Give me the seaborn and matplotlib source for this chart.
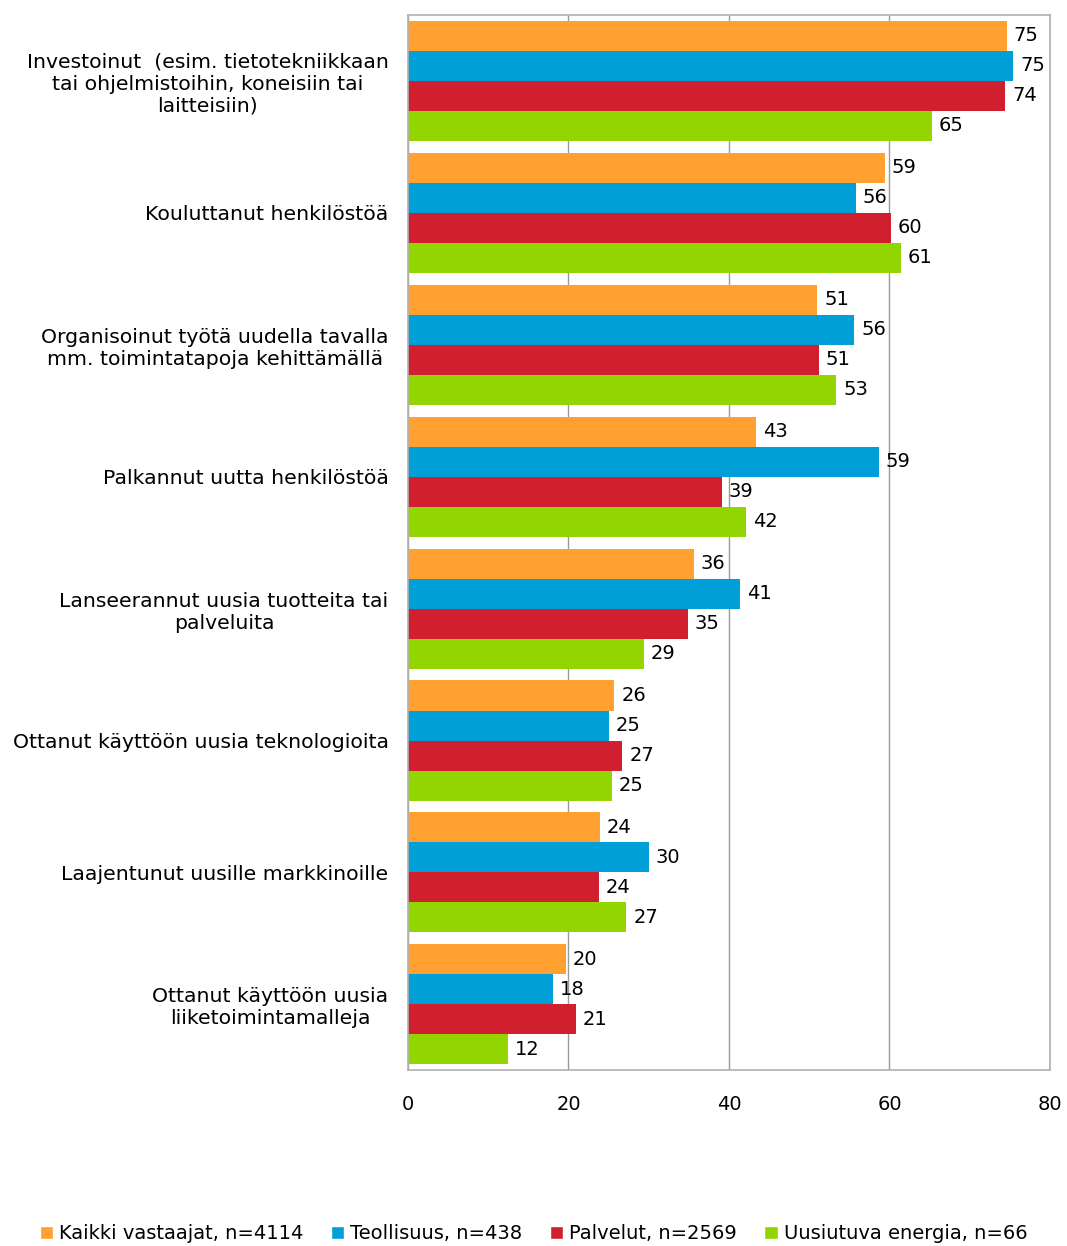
import pandas as pd
import matplotlib
matplotlib.use("Agg")
import matplotlib.pyplot as plt
import seaborn as sns
from matplotlib.patches import Patch

categories = [
    "Investoinut  (esim. tietotekniikkaan\ntai ohjelmistoihin, koneisiin tai\nlaitteisiin)",
    "Kouluttanut henkilöstöä",
    "Organisoinut työtä uudella tavalla\nmm. toimintatapoja kehittämällä",
    "Palkannut uutta henkilöstöä",
    "Lanseerannut uusia tuotteita tai\npalveluita",
    "Ottanut käyttöön uusia teknologioita",
    "Laajentunut uusille markkinoille",
    "Ottanut käyttöön uusia\nliiketoimintamalleja",
]
series = ["Kaikki vastaajat, n=4114", "Teollisuus, n=438", "Palvelut, n=2569", "Uusiutuva energia, n=66"]
kaikki = [74.6, 59.4, 51.0, 43.4, 35.6, 25.7, 23.9, 19.7]
teollisuus = [75.4, 55.8, 55.6, 58.7, 41.4, 25.0, 30.0, 18.1]
palvelut = [74.4, 60.2, 51.2, 39.1, 34.9, 26.7, 23.8, 20.9]
uusiutuva = [65.3, 61.4, 53.4, 42.1, 29.4, 25.4, 27.2, 12.4]
colors = ["#ffa031", "#009fd8", "#d0202f", "#93d500"]

df = pd.DataFrame({
    "kategoria": categories * 4,
    "sarja": [s for s in series for _ in categories],
    "arvo": kaikki + teollisuus + palvelut + uusiutuva,
})

sns.set_style("white")
plt.rcParams["font.family"] = ["DejaVu Sans"]
plt.rcParams["text.color"] = "black"
plt.rcParams["xtick.color"] = "black"
plt.rcParams["ytick.color"] = "black"

fig, ax = plt.subplots(figsize=(10.67, 12.46), dpi=100)
fig.subplots_adjust(left=0.3824, right=0.984, top=0.988, bottom=0.141)

sns.barplot(data=df, y="kategoria", x="arvo", hue="sarja", order=categories,
            hue_order=series, palette=colors, orient="h", width=0.91,
            saturation=1, legend=False, linewidth=0, ax=ax)

for cont in ax.containers:
    ax.bar_label(cont, fmt="%.0f", padding=5, fontsize=14, color="black")

ax.set_xlim(0, 80)
ax.set_xticks([0, 20, 40, 60, 80])
ax.set_ylim(len(categories) - 0.5, -0.5)
ax.xaxis.grid(True, color="#9a9a9a", linewidth=1)
ax.set_axisbelow(True)
for sp in ax.spines.values():
    sp.set_visible(True)
    sp.set_color("#b0b0b0")
    sp.set_linewidth(1.2)
ax.set_xlabel("")
ax.set_ylabel("")
ax.tick_params(axis="x", labelsize=14, pad=18, length=0)
ax.tick_params(axis="y", labelsize=14.7, pad=14, length=0)
for lbl in ax.get_yticklabels():
    lbl.set_multialignment("center")

handles = [Patch(facecolor=c, label=s) for c, s in zip(colors, series)]
fig.legend(handles=handles, loc="lower center", ncol=4, frameon=False,
           fontsize=14, bbox_to_anchor=(0.5, -0.012), handlelength=0.7,
           handleheight=0.7, handletextpad=0.3, columnspacing=1.4)

fig.savefig("out.png", dpi=100)
